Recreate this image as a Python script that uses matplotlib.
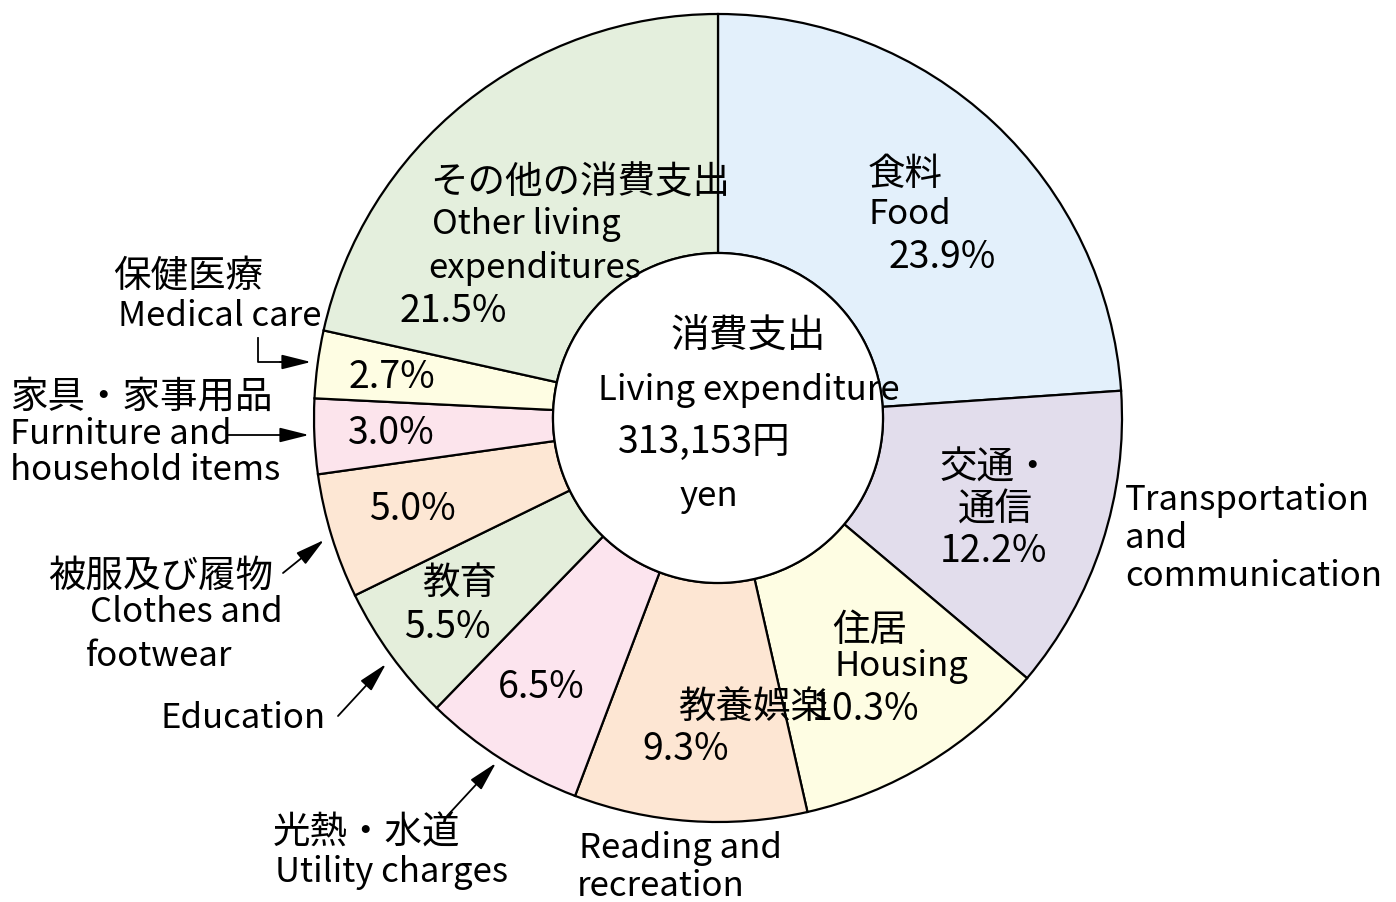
import matplotlib
matplotlib.use("Agg")
import matplotlib.pyplot as plt
from matplotlib.patches import Circle

plt.rcParams['font.family'] = ['Noto Sans CJK JP', 'DejaVu Sans']

# ---- data ----
categories_jp = ["食料", "交通・通信", "住居", "教養娯楽", "光熱・水道", "教育",
                 "被服及び履物", "家具・家事用品", "保健医療", "その他の消費支出"]
categories_en = ["Food", "Transportation and communication", "Housing",
                 "Reading and recreation", "Utility charges", "Education",
                 "Clothes and footwear", "Furniture and household items",
                 "Medical care", "Other living expenditures"]
shares = [23.9, 12.2, 10.3, 9.3, 6.5, 5.5, 5.0, 3.0, 2.7, 21.5]
colors = ["#E3F0FB", "#E2DDEC", "#FEFDE3", "#FDE6D3", "#FCE4EE",
          "#E4EEDB", "#FDE7D4", "#FCE4EC", "#FEFDE3", "#E4EFDD"]
center_jp = "消費支出"
center_en = "Living expenditure"
total_text = "313,153円"
unit_text = "yen"

W, H = 1396, 902
fig = plt.figure(figsize=(W / 100, H / 100), dpi=100)
ax = fig.add_axes([0, 0, 1, 1])

def Y(y):
    return H - y

cx, cy = 718, 418
R, r = 404, 165

ax.pie(shares, colors=colors, startangle=90, counterclock=False,
       center=(cx, Y(cy)), radius=R, frame=True,
       wedgeprops=dict(width=R - r, edgecolor='black', linewidth=1.6))
ax.set_xlim(0, W)
ax.set_ylim(0, H)
ax.set_aspect('equal')
ax.axis('off')
ax.add_patch(Circle((cx, Y(cy)), r, facecolor='white', edgecolor='black', lw=1.6, zorder=3))

fs_j = 27
fs_e = 25
fs_p = 27

def t(x, y, s, ha='left', fs=fs_e):
    ax.text(x, Y(y), s, ha=ha, va='center', fontsize=fs, color='black', zorder=5)

pct = [f"{v:.1f}%" for v in shares]

# Food
t(868, 175, categories_jp[0], fs=fs_j)
t(868, 215, "Food")
t(889, 258, pct[0], fs=fs_p)
# Transportation
t(940, 468, "交通・", fs=fs_j)
t(958, 510, "通信", fs=fs_j)
t(940, 552, pct[1], fs=fs_p)
t(1125, 500, "Transportation")
t(1125, 539, "and")
t(1125, 577, "communication")
# Housing
t(832, 630, categories_jp[2], fs=fs_j)
t(834, 667, "Housing")
t(812, 710, pct[2], fs=fs_p)
# Reading
t(678, 708, categories_jp[3], fs=fs_j)
t(642, 750, pct[3], fs=fs_p)
t(579, 849, "Reading and")
t(577, 886, "recreation")
# Utility
t(498, 688, pct[4], fs=fs_p)
t(273, 833, categories_jp[4], fs=fs_j)
t(275, 872, "Utility charges")
# Education
t(422, 583, categories_jp[5], fs=fs_j)
t(404, 628, pct[5], fs=fs_p)
t(160, 718, "Education")
# Clothes
t(369, 509, pct[6], fs=fs_p)
t(48, 576, categories_jp[6], fs=fs_j)
t(90, 613, "Clothes and")
t(86, 656, "footwear")
# Furniture
t(348, 433, pct[7], fs=fs_p)
t(10, 397, "家具・家事用品", fs=fs_j)
t(10, 434, "Furniture and")
t(10, 471, "household items")
# Medical
t(349, 377, pct[8], fs=fs_p)
t(113, 277, categories_jp[8], fs=fs_j)
t(118, 316, "Medical care")
# Other
t(430, 183, categories_jp[9], fs=fs_j)
t(432, 225, "Other living")
t(428, 268, "expenditures")
t(400, 311, pct[9], fs=fs_p)
# Center
t(748, 337, center_jp, ha='center', fs=28)
t(598, 390, center_en)
t(618, 442, total_text, fs=fs_p)
t(680, 497, unit_text)

# arrows
arrow_kw = dict(arrowstyle='-|>,head_length=1.8,head_width=0.45', color='black', lw=1.3,
                shrinkA=0, shrinkB=0)
ax.plot([258, 258, 285], [Y(338), Y(362), Y(362)], color='black', lw=1.3, zorder=4)
ax.annotate("", xy=(311, Y(362)), xytext=(280, Y(362)), arrowprops=arrow_kw, zorder=4)
ax.annotate("", xy=(309, Y(435)), xytext=(228, Y(435)), arrowprops=arrow_kw, zorder=4)
ax.annotate("", xy=(324, Y(540)), xytext=(283, Y(573)), arrowprops=arrow_kw, zorder=4)
ax.annotate("", xy=(386, Y(664)), xytext=(338, Y(716)), arrowprops=arrow_kw, zorder=4)
ax.annotate("", xy=(496, Y(763)), xytext=(447, Y(816)), arrowprops=arrow_kw, zorder=4)

fig.savefig("out.png", dpi=100)
